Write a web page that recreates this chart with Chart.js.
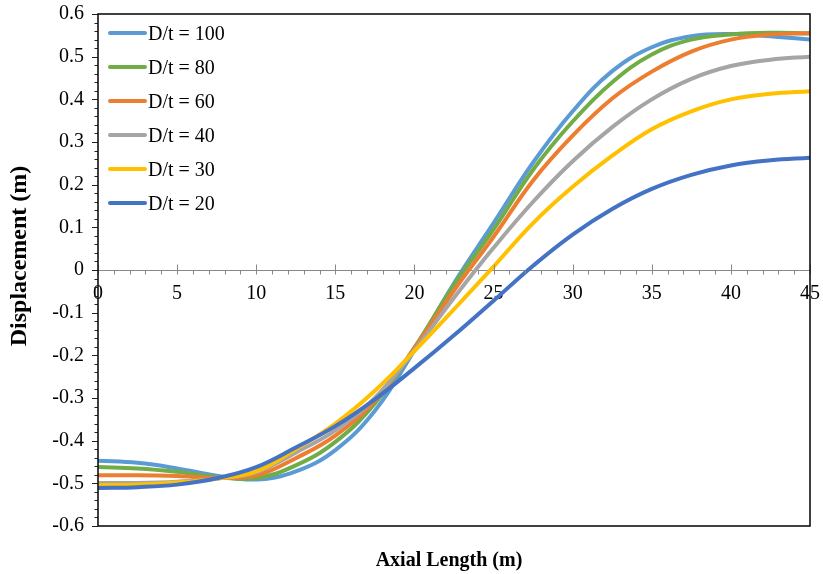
<!DOCTYPE html>
<html>
<head>
<meta charset="utf-8">
<script src="https://cdn.jsdelivr.net/npm/chart.js@4.4.1/dist/chart.umd.min.js"></script>
<style>
html,body{margin:0;padding:0;background:#fff;}
#wrap{position:relative;width:823px;height:574px;}
canvas{display:block;}
#legend{position:absolute;left:108px;top:16px;font-family:'Liberation Serif','Times New Roman',serif;font-size:20px;color:#000;}
.row{height:34px;display:flex;align-items:center;white-space:pre;}
.sw{width:39px;height:4px;border-radius:2px;margin-right:1px;}
</style>
</head>
<body>
<div id="wrap"><canvas id="c" width="823" height="574"></canvas><div id="legend"></div></div>
<script>
// ---- data ----
const xValues = [0, 2.5, 5, 7.5, 10, 12.5, 15, 17.5, 20, 22.5, 25, 27.5, 30, 32.5, 35, 37.5, 40, 42.5, 45];
const seriesNames = ['D/t = 100', 'D/t = 80', 'D/t = 60', 'D/t = 40', 'D/t = 30', 'D/t = 20'];
const dt100 = [-0.447, -0.452, -0.465, -0.482, -0.491, -0.472, -0.422, -0.330, -0.188, -0.031, 0.110, 0.252, 0.372, 0.466, 0.522, 0.548, 0.553, 0.548, 0.540];
const dt80  = [-0.462, -0.465, -0.473, -0.485, -0.488, -0.458, -0.403, -0.313, -0.182, -0.035, 0.095, 0.235, 0.348, 0.440, 0.505, 0.540, 0.552, 0.556, 0.555];
const dt60  = [-0.481, -0.481, -0.483, -0.487, -0.482, -0.441, -0.388, -0.306, -0.183, -0.048, 0.078, 0.210, 0.315, 0.402, 0.465, 0.512, 0.540, 0.552, 0.555];
const dt40  = [-0.499, -0.499, -0.496, -0.489, -0.474, -0.428, -0.376, -0.300, -0.188, -0.065, 0.052, 0.160, 0.255, 0.335, 0.400, 0.448, 0.478, 0.493, 0.500];
const dt30  = [-0.504, -0.503, -0.498, -0.489, -0.472, -0.420, -0.360, -0.283, -0.190, -0.092, 0.008, 0.110, 0.195, 0.268, 0.330, 0.372, 0.400, 0.413, 0.419];
const dt20  = [-0.511, -0.509, -0.503, -0.488, -0.462, -0.416, -0.366, -0.303, -0.230, -0.153, -0.072, 0.010, 0.083, 0.143, 0.190, 0.223, 0.245, 0.257, 0.263];
const seriesValues = [dt100, dt80, dt60, dt40, dt30, dt20];
const seriesColors = ['#5B9BD5', '#70AD47', '#ED7D31', '#A5A5A5', '#FFC000', '#4472C4'];
const xTicks = [0, 5, 10, 15, 20, 25, 30, 35, 40, 45];
const xTickLabels = ['0', '5', '10', '15', '20', '25', '30', '35', '40', '45'];
const yTicks = [-0.6, -0.5, -0.4, -0.3, -0.2, -0.1, 0, 0.1, 0.2, 0.3, 0.4, 0.5, 0.6];
const yTickLabels = ['-0.6', '-0.5', '-0.4', '-0.3', '-0.2', '-0.1', '0', '0.1', '0.2', '0.3', '0.4', '0.5', '0.6'];
const xTitle = 'Axial Length (m)';
const yTitle = 'Displacement (m)';

const FONT = "'Liberation Serif','Times New Roman',serif";

// legend (HTML)
const lg = document.getElementById('legend');
seriesNames.forEach((n, i) => {
  const r = document.createElement('div'); r.className = 'row';
  const s = document.createElement('div'); s.className = 'sw'; s.style.background = seriesColors[i];
  r.appendChild(s); r.appendChild(document.createTextNode(n));
  lg.appendChild(r);
});

const framePlugin = {
  id: 'frame',
  afterDraw(chart) {
    const {ctx, chartArea: a, scales} = chart;
    const xs = scales.x, ys = scales.y;
    ctx.save();
    // minor / major ticks on Y
    ctx.strokeStyle = '#222'; ctx.lineWidth = 1;
    for (let k = -30; k <= 30; k++) {
      const v = k / 50;
      const p = Math.round(ys.getPixelForValue(v)) + 0.5;
      const major = (k % 5 === 0);
      ctx.beginPath(); ctx.moveTo(a.left - (major ? 6 : 3.5), p); ctx.lineTo(a.left, p); ctx.stroke();
    }
    // ticks on X axis line (y = 0)
    const y0 = Math.round(ys.getPixelForValue(0)) + 0.5;
    ctx.strokeStyle = '#888';
    for (let k = 0; k <= 45; k++) {
      const p = Math.round(xs.getPixelForValue(k)) + 0.5;
      const major = (k % 5 === 0);
      ctx.beginPath(); ctx.moveTo(p, major ? y0 - 6 : y0); ctx.lineTo(p, y0 + 4); ctx.stroke();
    }
    // frame
    ctx.strokeStyle = '#111'; ctx.lineWidth = 1.6;
    ctx.strokeRect(a.left, a.top, a.right - a.left, a.bottom - a.top);
    // axis titles
    ctx.fillStyle = '#000';
    ctx.textAlign = 'center'; ctx.textBaseline = 'middle';
    ctx.font = 'bold 20px ' + FONT;
    ctx.fillText(xTitle, 449, 561);
    ctx.font = 'bold 24px ' + FONT;
    ctx.translate(20, 256); ctx.rotate(-Math.PI / 2);
    ctx.fillText(yTitle, 0, 0);
    ctx.restore();
  }
};

new Chart(document.getElementById('c'), {
  type: 'line',
  data: {
    datasets: seriesNames.map((n, i) => ({
      label: n,
      data: xValues.map((x, j) => ({x: x, y: seriesValues[i][j]})),
      borderColor: seriesColors[i],
      backgroundColor: seriesColors[i],
      borderWidth: 4,
      pointRadius: 0,
      tension: 0.4,
      fill: false,
      borderCapStyle: 'round',
      order: seriesNames.length - 1 - i,
      xAxisID: 'x',
      yAxisID: 'y'
    }))
  },
  options: {
    responsive: false,
    animation: false,
    layout: {padding: {left: 0, right: 13, top: 14, bottom: 48}},
    plugins: {legend: {display: false}, tooltip: {enabled: false}},
    scales: {
      y: {
        type: 'linear', position: 'left', min: -0.6, max: 0.6,
        afterBuildTicks: s => { s.ticks = yTicks.map(v => ({value: v})); },
        afterFit: s => { s.width = 98; s.paddingTop = 0; s.paddingBottom = 0; },
        ticks: {callback: (v, i) => yTickLabels[i], padding: 14, color: '#000', font: {family: FONT, size: 20}},
        grid: {display: false, drawTicks: false},
        border: {display: false},
        title: {display: false}
      },
      x: {
        type: 'linear', position: {y: 0}, min: 0, max: 45,
        afterBuildTicks: s => { s.ticks = xTicks.map(v => ({value: v})); },
        afterFit: s => { s.paddingLeft = 0; s.paddingRight = 0; },
        ticks: {callback: (v, i) => xTickLabels[i], padding: 12, maxRotation: 0, autoSkip: false, color: '#000', font: {family: FONT, size: 20}},
        grid: {display: false, drawTicks: false},
        border: {display: true, color: '#888', width: 1}
      }
    }
  },
  plugins: [framePlugin]
});
</script>
</body>
</html>
